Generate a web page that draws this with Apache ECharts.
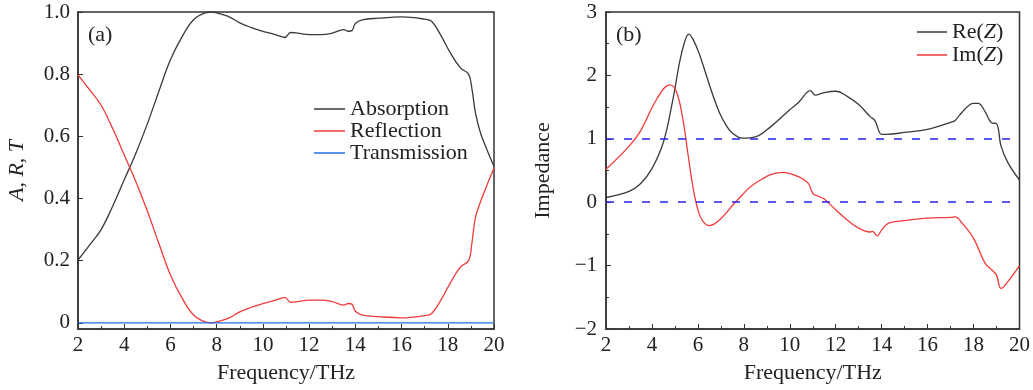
<!DOCTYPE html>
<html>
<head>
<meta charset="utf-8">
<script src="https://cdn.jsdelivr.net/npm/echarts@6/dist/echarts.min.js"></script>
<style>
html, body { margin: 0; padding: 0; background: #fff; }
#main { width: 1033px; height: 390px; }
</style>
</head>
<body>
<div id="main"></div>
<script>
// panel (a): absorption / reflection / transmission
var freqA = [2, 2.5, 3, 3.5, 4, 4.5, 5, 5.5, 6, 6.5, 7, 7.5, 7.8, 8, 8.5, 9, 9.5, 10, 10.5, 10.8, 10.95, 11.2, 11.5, 12, 12.5, 13, 13.5, 13.7, 13.85, 14, 14.3, 15, 16, 17, 17.3, 17.7, 18.1, 18.55, 18.9, 19.05, 19.2, 19.42, 19.7, 20];
var absorption = [0.202, 0.25, 0.30, 0.375, 0.46, 0.545, 0.64, 0.745, 0.846, 0.92, 0.975, 0.997, 1.0, 0.997, 0.986, 0.965, 0.95, 0.938, 0.928, 0.921, 0.918, 0.934, 0.932, 0.927, 0.927, 0.932, 0.943, 0.938, 0.94, 0.963, 0.975, 0.98, 0.984, 0.977, 0.97, 0.925, 0.87, 0.82, 0.80, 0.75, 0.675, 0.61, 0.556, 0.503];
var reflection = [0.798, 0.75, 0.70, 0.625, 0.54, 0.455, 0.36, 0.255, 0.154, 0.08, 0.025, 0.003, 0.0, 0.003, 0.014, 0.035, 0.05, 0.062, 0.072, 0.079, 0.082, 0.066, 0.068, 0.073, 0.073, 0.068, 0.057, 0.062, 0.06, 0.037, 0.025, 0.02, 0.016, 0.023, 0.03, 0.073, 0.127, 0.18, 0.20, 0.26, 0.34, 0.39, 0.444, 0.497];
var freqT = [2, 20];
var transmission = [0, 0];

// panel (b): impedance
var freqZ = [2, 3, 3.5, 4, 4.5, 4.9, 5.2, 5.4, 5.6, 5.8, 6.07, 6.36, 6.65, 6.94, 7.22, 7.5, 7.95, 8.5, 9.2, 10, 10.4, 10.9, 11.1, 11.5, 12, 12.5, 13, 13.5, 13.7, 14, 14.2, 15, 16, 17, 17.2, 17.5, 18, 18.2, 18.5, 18.8, 19.0, 19.2, 19.5, 20];
var reZ = [0.074, 0.17, 0.29, 0.53, 0.95, 1.60, 2.20, 2.50, 2.65, 2.56, 2.33, 2.01, 1.69, 1.41, 1.22, 1.09, 1.01, 1.03, 1.20, 1.46, 1.58, 1.76, 1.69, 1.73, 1.75, 1.67, 1.54, 1.35, 1.29, 1.07, 1.07, 1.10, 1.15, 1.26, 1.29, 1.42, 1.56, 1.56, 1.43, 1.25, 1.24, 0.88, 0.62, 0.35];
var freqIm = [2, 3, 3.5, 4.2, 4.77, 5.06, 5.35, 5.56, 5.78, 6.0, 6.21, 6.5, 6.94, 7.66, 8.5, 9.68, 10.4, 10.8, 11, 11.2, 11.5, 12, 12.5, 13, 13.5, 13.6, 13.8, 14, 14.3, 15, 16, 17, 17.2, 17.5, 18, 18.5, 18.8, 19.0, 19.2, 19.5, 20];
var imZ = [0.52, 0.88, 1.12, 1.62, 1.85, 1.75, 1.30, 0.78, 0.25, -0.12, -0.30, -0.37, -0.28, 0.01, 0.30, 0.47, 0.40, 0.30, 0.14, 0.10, 0.05, -0.12, -0.28, -0.41, -0.47, -0.46, -0.53, -0.44, -0.33, -0.29, -0.25, -0.24, -0.23, -0.33, -0.57, -0.96, -1.07, -1.15, -1.36, -1.25, -1.0];
var refLines = [1, 0];

var ticksA = [0, 0.2, 0.4, 0.6, 0.8, 1.0];

var FONT = '"Liberation Serif", "DejaVu Serif", serif';
var DARK = '#333';
var TXT = '#222';

function pairs(xs, ys) {
    return xs.map(function (x, i) {
        return [x, ys[i]];
    });
}

function xAxisFor(idx) {
    return {
        type: 'value',
        gridIndex: idx,
        min: 2,
        max: 20,
        interval: 2,
        name: 'Frequency/THz',
        nameLocation: 'middle',
        nameGap: 33,
        nameTextStyle: {fontFamily: FONT, fontSize: 22, color: TXT},
        axisLine: {show: true, onZero: false, lineStyle: {color: DARK, width: 1.5}},
        axisTick: {show: true, inside: true, length: 5, lineStyle: {color: DARK}},
        minorTick: {show: true, splitNumber: 2, length: 3, lineStyle: {color: DARK}},
        axisLabel: {fontFamily: FONT, fontSize: 21, color: TXT, margin: 6},
        splitLine: {show: false}
    };
}

var chart = echarts.init(document.getElementById('main'));

var option = {
    animation: false,
    backgroundColor: '#fff',
    title: [
        {text: '(a)', left: 83, top: 19, textStyle: {fontFamily: FONT, fontSize: 22, fontWeight: 'normal', color: TXT}},
        {text: '(b)', left: 611, top: 19, textStyle: {fontFamily: FONT, fontSize: 22, fontWeight: 'normal', color: TXT}}
    ],
    grid: [
        {left: 78, right: 539, top: 12, bottom: 61, show: true, borderColor: DARK, borderWidth: 1.5},
        {left: 606, right: 11, top: 12, bottom: 61, show: true, borderColor: DARK, borderWidth: 1.5}
    ],
    legend: [
        {
            left: 309, top: 93, orient: 'vertical', itemGap: 0,
            icon: 'rect', itemWidth: 31, itemHeight: 1.5,
            textStyle: {fontFamily: FONT, fontSize: 22, color: TXT},
            data: ['Absorption', 'Reflection', 'Transmission']
        },
        {
            left: 912, top: 16, orient: 'vertical', itemGap: 1,
            icon: 'rect', itemWidth: 30, itemHeight: 1.5,
            textStyle: {fontFamily: FONT, fontSize: 22, color: TXT, rich: {i: {fontFamily: FONT, fontStyle: 'italic', fontSize: 22, color: TXT}}},
            formatter: function (name) {
                return name.replace('Z', '{i|Z}');
            },
            data: ['Re(Z)', 'Im(Z)']
        }
    ],
    xAxis: [xAxisFor(0), xAxisFor(1)],
    yAxis: [
        {
            type: 'value',
            gridIndex: 0,
            min: -0.02,
            max: 1,
            name: '{i|A}, {i|R}, {i|T}',
            nameLocation: 'middle',
            nameGap: 50,
            nameTextStyle: {fontFamily: FONT, fontSize: 22, color: TXT, rich: {i: {fontFamily: FONT, fontStyle: 'italic', fontSize: 22, color: TXT}}},
            axisLine: {show: true, onZero: false, lineStyle: {color: DARK, width: 1.5}},
            axisTick: {show: true, inside: true, length: 5, customValues: ticksA, lineStyle: {color: DARK}},
            axisLabel: {
                fontFamily: FONT, fontSize: 21, color: TXT, margin: 8,
                customValues: ticksA,
                formatter: function (v) {
                    return v === 0 ? '0' : v.toFixed(1);
                }
            },
            splitLine: {show: false}
        },
        {
            type: 'value',
            gridIndex: 1,
            min: -2,
            max: 3,
            interval: 1,
            name: 'Impedance',
            nameLocation: 'middle',
            nameGap: 52,
            nameTextStyle: {fontFamily: FONT, fontSize: 22, color: TXT},
            axisLine: {show: true, onZero: false, lineStyle: {color: DARK, width: 1.5}},
            axisTick: {show: true, inside: true, length: 5, lineStyle: {color: DARK}},
            minorTick: {show: true, splitNumber: 2, length: 3, lineStyle: {color: DARK}},
            axisLabel: {
                fontFamily: FONT, fontSize: 21, color: TXT, margin: 9,
                formatter: function (v) {
                    return v < 0 ? '\u2212' + Math.abs(v) : String(v);
                }
            },
            splitLine: {show: false}
        }
    ],
    series: [
        {
            name: 'Absorption', type: 'line', xAxisIndex: 0, yAxisIndex: 0,
            data: pairs(freqA, absorption), smooth: 0.4, symbol: 'none',
            itemStyle: {color: '#3a3a3a'}, lineStyle: {color: '#3a3a3a', width: 1.3}
        },
        {
            name: 'Reflection', type: 'line', xAxisIndex: 0, yAxisIndex: 0,
            data: pairs(freqA, reflection), smooth: 0.4, symbol: 'none',
            itemStyle: {color: '#f23a3a'}, lineStyle: {color: '#f23a3a', width: 1.3}
        },
        {
            name: 'Transmission', type: 'line', xAxisIndex: 0, yAxisIndex: 0,
            data: pairs(freqT, transmission), symbol: 'none',
            itemStyle: {color: '#1f6fe5'}, lineStyle: {color: '#1f6fe5', width: 1.3}
        },
        {
            name: 'Re(Z)', type: 'line', xAxisIndex: 1, yAxisIndex: 1,
            data: pairs(freqZ, reZ), smooth: 0.4, symbol: 'none',
            itemStyle: {color: '#3a3a3a'}, lineStyle: {color: '#3a3a3a', width: 1.3},
            markLine: {
                silent: true, symbol: 'none', label: {show: false},
                lineStyle: {color: '#2323f0', type: [8, 10], width: 1.5},
                data: refLines.map(function (v) { return {yAxis: v}; })
            }
        },
        {
            name: 'Im(Z)', type: 'line', xAxisIndex: 1, yAxisIndex: 1,
            data: pairs(freqIm, imZ), smooth: 0.4, symbol: 'none',
            itemStyle: {color: '#f23a3a'}, lineStyle: {color: '#f23a3a', width: 1.3}
        }
    ]
};
chart.setOption(option);
</script>
</body>
</html>
